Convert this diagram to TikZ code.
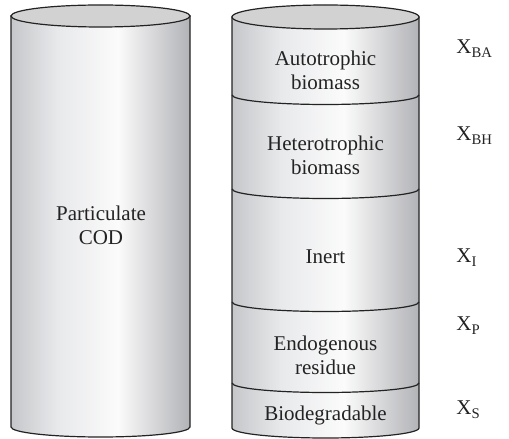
\documentclass[tikz,border=0pt]{standalone}
\usepackage{fontspec}
\setmainfont{Liberation Serif}
\definecolor{sideL}{RGB}{198,199,202}
\definecolor{sideM}{RGB}{232,233,235}
\definecolor{sideH}{RGB}{251,251,251}
\definecolor{sideR}{RGB}{178,179,183}
\definecolor{lidgray}{RGB}{210,210,210}
\definecolor{ink}{RGB}{35,35,35}
\pgfdeclarehorizontalshading{cylside}{100bp}{color(0bp)=(sideL); color(25bp)=(sideL); color(38bp)=(sideM); color(55bp)=(sideH); color(75bp)=(sideR); color(100bp)=(sideR)}
\tikzset{
	wall/.style={shading=cylside, draw=ink, line width=0.6pt},
	lid/.style={fill=lidgray, draw=ink, line width=0.6pt},
	ring/.style={draw=ink, line width=0.6pt},
	layer/.style={font=\fontsize{10.5}{12}\selectfont, align=center, text=ink},
	comp/.style={font=\fontsize{10.5}{12}\selectfont, text=ink, anchor=base west, inner sep=0pt},
}
\begin{document}
\begin{tikzpicture}[x=0.5pt,y=0.5pt]
		\useasboundingbox (0,0) rectangle (509,439);
		% left cylinder
		\shade[wall] (11,423)--(11,12) arc[start angle=180, end angle=360, x radius=89.5, y radius=10]--(190,423)--cycle;
		\filldraw[lid] (100.5,423) ellipse[x radius=89.5, y radius=11];
		\node[layer] (pcod) at (101,214) {Particulate\\COD};
		% right cylinder
		\shade[wall] (232,422)--(232,11) arc[start angle=180, end angle=360, x radius=93.5, y radius=10]--(419,422)--cycle;
		\filldraw[lid] (325.5,422) ellipse[x radius=93.5, y radius=12];
		\foreach \h in {344,250,137,56}
			\draw[ring] (232,\h) arc[start angle=180, end angle=360, x radius=93.5, y radius=9.5];
		\node[layer] (auto) at (325.5,369) {Autotrophic\\biomass};
		\node[layer] (hetero) at (325.5,284) {Heterotrophic\\biomass};
		\node[layer] (inert) at (325.5,182) {Inert};
		\node[layer] (endo) at (325.5,84) {Endogenous\\residue};
		\node[layer] (biodeg) at (325.5,24) {Biodegradable};
		% components
		\node[comp] (xba) at (456,385) {X\textsubscript{BA}};
		\node[comp] (xbh) at (456,298) {X\textsubscript{BH}};
		\node[comp] (xi) at (456,176) {X\textsubscript{I}};
		\node[comp] (xp) at (456,108) {X\textsubscript{P}};
		\node[comp] (xs) at (456,24) {X\textsubscript{S}};
\end{tikzpicture}
\end{document}
